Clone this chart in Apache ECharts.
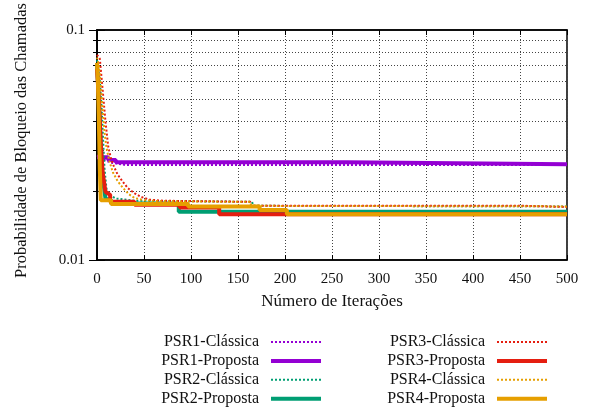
<!DOCTYPE html>
<html>
<head>
<meta charset="utf-8">
<script src="https://cdn.jsdelivr.net/npm/echarts@6/dist/echarts.min.js"></script>
<style>
  html, body { margin: 0; padding: 0; background: #fff; }
  #chart { width: 596px; height: 412px; }
</style>
</head>
<body>
<div id="chart"></div>
<script>
// pontos [iteração, probabilidade]
const psr1Classica = [[0, 0.0285], [3, 0.0280], [8, 0.0272], [15, 0.0265], [30, 0.0259], [500, 0.0259]];
const psr1Proposta = [[0, 0.0280], [12, 0.0280], [12, 0.0272], [20, 0.0272], [20, 0.0266], [265, 0.0266], [265, 0.0261], [500, 0.0261]];
const psr2Classica = [[0, 0.074], [3, 0.060], [5, 0.045], [7, 0.030], [8, 0.025], [10, 0.0205], [13, 0.0192], [20, 0.0185], [40, 0.0181], [165, 0.0179], [166, 0.0172], [500, 0.0171]];
const psr2Proposta = [[0, 0.070], [2, 0.050], [4, 0.032], [6, 0.023], [9, 0.0185], [15, 0.0182], [15, 0.0176], [87, 0.0176], [87, 0.0162], [500, 0.0162]];
const psr3Classica = [[0, 0.078], [3, 0.075], [6, 0.055], [9, 0.040], [12, 0.031], [15, 0.0275], [18, 0.0255], [22, 0.0235], [27, 0.022], [33, 0.0205], [40, 0.0195], [47, 0.0188], [56, 0.0183], [70, 0.0181], [163, 0.0179], [164, 0.0172], [455, 0.0172], [456, 0.0170], [500, 0.0170]];
const psr3Proposta = [[0, 0.068], [2, 0.050], [4, 0.032], [6, 0.024], [9, 0.0198], [14, 0.0192], [14, 0.0179], [40, 0.0179], [40, 0.0174], [88, 0.0174], [88, 0.0169], [130, 0.0169], [130, 0.0158], [203, 0.0158], [500, 0.0158]];
const psr4Classica = [[0, 0.076], [2, 0.070], [4, 0.058], [6, 0.045], [8, 0.036], [10, 0.031], [13, 0.027], [17, 0.024], [22, 0.022], [28, 0.0205], [34, 0.0193], [40, 0.0186], [50, 0.0182], [70, 0.0180], [163, 0.0179], [164, 0.0172], [500, 0.0171]];
const psr4Proposta = [[0, 0.072], [1, 0.060], [2, 0.040], [3, 0.025], [4, 0.0182], [15, 0.0182], [15, 0.0175], [97, 0.0175], [97, 0.0171], [173, 0.0171], [173, 0.0165], [202, 0.0165], [202, 0.0158], [500, 0.0158]];

const seriesNames = ['PSR1-Clássica', 'PSR1-Proposta', 'PSR2-Clássica', 'PSR2-Proposta',
                     'PSR3-Clássica', 'PSR3-Proposta', 'PSR4-Clássica', 'PSR4-Proposta'];
const seriesData = [psr1Classica, psr1Proposta, psr2Classica, psr2Proposta,
                    psr3Classica, psr3Proposta, psr4Classica, psr4Proposta];
const cores = ['#9400d3', '#9400d3', '#009e73', '#009e73', '#e51e10', '#e51e10', '#e69f00', '#e69f00'];

const fonte = '"Liberation Serif", "DejaVu Serif", serif';
const gridLine = { show: true, lineStyle: { color: '#444', width: 1, type: [1, 2] } };

const estiloLinha = (i) => {
    const classica = i % 2 === 0;
    return { color: cores[i], width: classica ? 2 : 4, type: classica ? [2, 2] : 'solid' };
};

const series = seriesNames.map((name, i) => ({
    name: name,
    type: 'line',
    data: seriesData[i],
    xAxisIndex: 0,
    yAxisIndex: 0,
    showSymbol: false,
    symbol: 'none',
    color: cores[i],
    lineStyle: estiloLinha(i)
}));

// sem o círculo do símbolo na legenda, só a linha
const legendItem = (name) => {
    const i = seriesNames.indexOf(name);
    return { name: name, lineStyle: estiloLinha(i), itemStyle: { opacity: 0 } };
};

const legendBase = {
    orient: 'vertical',
    align: 'right',
    top: 334,
    padding: 0,
    itemWidth: 50,
    itemHeight: 14,
    itemGap: 2.9,
    selectedMode: false,
    textStyle: { fontFamily: fonte, fontSize: 16, color: '#111', padding: [0, 7, 0, 0] }
};

const chart = echarts.init(document.getElementById('chart'));
chart.setOption({
    animation: false,
    textStyle: { fontFamily: fonte },
    grid: {
        left: 97, right: 29, top: 30, bottom: 152,
        show: true, borderColor: '#000', borderWidth: 1.5
    },
    legend: [
        Object.assign({}, legendBase, { right: 273, data: seriesNames.slice(0, 4).map(legendItem) }),
        Object.assign({}, legendBase, { right: 47, data: seriesNames.slice(4).map(legendItem) })
    ],
    xAxis: [{
        type: 'value',
        min: 0, max: 500, interval: 50,
        name: 'Número de Iterações',
        nameLocation: 'middle',
        nameGap: 33,
        nameTextStyle: { fontFamily: fonte, fontSize: 17, color: '#111' },
        axisLine: { lineStyle: { color: '#000', width: 1.5 } },
        axisTick: { inside: true, length: 5, lineStyle: { color: '#000' } },
        axisLabel: { fontFamily: fonte, fontSize: 15, color: '#111', margin: 12 },
        splitLine: gridLine
    }, {
        type: 'value',
        position: 'top',
        min: 0, max: 500, interval: 50,
        axisLine: { show: true, lineStyle: { color: '#000', width: 1.5 } },
        axisTick: { inside: true, length: 5, lineStyle: { color: '#000' } },
        axisLabel: { show: false },
        splitLine: { show: false }
    }],
    yAxis: [{
        type: 'log',
        logBase: 10,
        min: 0.01, max: 0.1,
        name: 'Probabilidade de Bloqueio das Chamadas',
        nameLocation: 'middle',
        nameGap: 67,
        nameTextStyle: { fontFamily: fonte, fontSize: 16.5, color: '#111', padding: [0, 0, 0, 9] },
        axisLine: { show: true, lineStyle: { color: '#000', width: 1.5 } },
        axisTick: { inside: true, length: 8, lineStyle: { color: '#000' } },
        minorTick: { show: true, splitNumber: 9, length: 4, lineStyle: { color: '#000' } },
        minorSplitLine: gridLine,
        axisLabel: {
            fontFamily: fonte, fontSize: 15, color: '#111', margin: 12,
            formatter: (v) => String(+v.toPrecision(2))
        },
        splitLine: { show: false }
    }, {
        type: 'log',
        logBase: 10,
        min: 0.01, max: 0.1,
        position: 'right',
        axisLine: { show: true, lineStyle: { color: '#000', width: 1.5 } },
        axisTick: { inside: true, length: 8, lineStyle: { color: '#000' } },
        minorTick: { show: true, splitNumber: 9, length: 4, lineStyle: { color: '#000' } },
        axisLabel: { show: false },
        splitLine: { show: false }
    }],
    series: series
});
</script>
</body>
</html>
